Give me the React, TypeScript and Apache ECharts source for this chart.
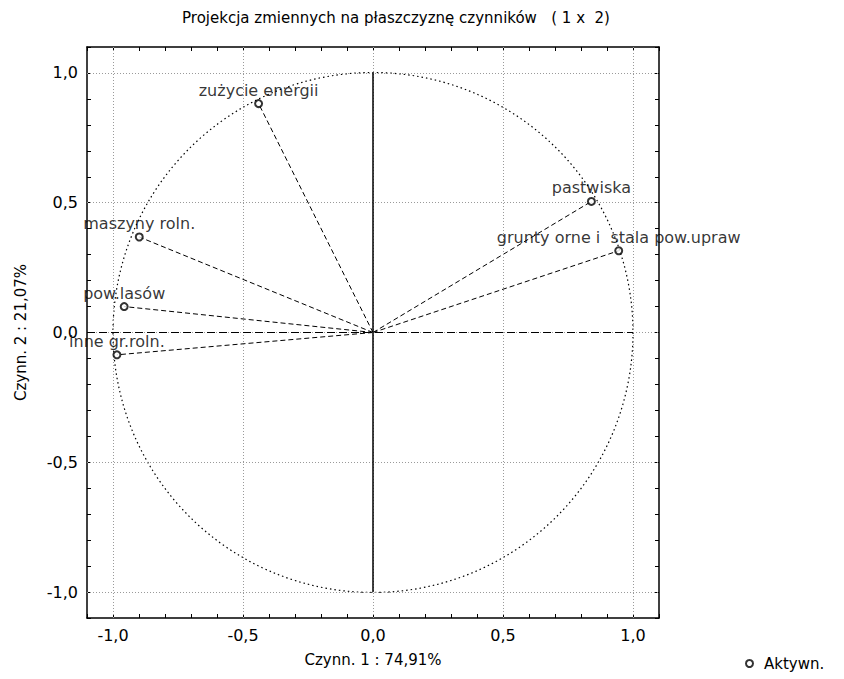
import React, { useEffect, useRef } from "react";
import * as echarts from "echarts";

const titleText = "Projekcja zmiennych na płaszczyznę czynników   ( 1 x  2)";
const xAxisTitle = "Czynn. 1 : 74,91%";
const yAxisTitle = "Czynn. 2 : 21,07%";
const seriesName = "Aktywn.";

const variableNames = [
  "zużycie energii",
  "maszyny roln.",
  "pow.lasów",
  "inne gr.roln.",
  "pastwiska",
  "grunty orne i  stala pow.upraw",
];
const factor1 = [-0.44, -0.899, -0.957, -0.985, 0.84, 0.945];
const factor2 = [0.882, 0.368, 0.1, -0.086, 0.505, 0.315];

const gridValues = [-1, -0.5, 0, 0.5, 1];
const axisMin = -1.1;
const axisMax = 1.1;
const tickStep = 0.1;

const FONT = "DejaVu Sans";

function fmt(v: number): string {
  if (Math.abs(v * 2 - Math.round(v * 2)) > 1e-6) return "";
  const r = Math.round(v * 10) / 10;
  return (r === 0 ? 0 : r).toFixed(1).replace(".", ",");
}

export default function App() {
  const ref = useRef<HTMLDivElement>(null);
  useEffect(() => {
    if (!ref.current) return;
    const chart = echarts.init(ref.current, null, { renderer: "svg" });

    const axisCommon = {
      type: "value",
      min: axisMin,
      max: axisMax,
      interval: tickStep,
      axisLine: { show: true, onZero: false, lineStyle: { color: "#000", width: 1.5 } },
      axisTick: { show: true, inside: true, length: 4, lineStyle: { color: "#000", width: 1 } },
      splitLine: { show: false },
    };

    const points = variableNames.map((n, i) => ({ name: n, value: [factor1[i], factor2[i]] }));

    const gridLineStyle = { color: "#9a9a9a", type: [1, 2], width: 1 };

    chart.setOption({
      animation: false,
      backgroundColor: "#fff",
      grid: { left: 87, right: 185, top: 47, bottom: 61, containLabel: false, outerBoundsMode: "none" },
      graphic: [
        {
          type: "text",
          x: 396,
          y: 18,
          style: {
            text: titleText,
            textAlign: "center",
            textVerticalAlign: "middle",
            fontFamily: FONT,
            fontSize: 15,
            fill: "#000",
          },
        },
      ],
      legend: {
        show: true,
        left: 740,
        top: 651,
        itemWidth: 7,
        itemHeight: 7,
        itemGap: 6,
        textStyle: { fontFamily: FONT, fontSize: 15, color: "#000", padding: [0, 0, 0, 6] },
        data: [{ name: seriesName, icon: "emptyCircle" }],
      },
      xAxis: [
        {
          ...axisCommon,
          position: "bottom",
          name: xAxisTitle,
          nameLocation: "middle",
          nameGap: 34,
          nameTextStyle: { fontFamily: FONT, fontSize: 15, color: "#000" },
          axisLabel: { show: true, margin: 9, formatter: fmt, fontFamily: FONT, fontSize: 16, color: "#000" },
        },
        {
          ...axisCommon,
          position: "top",
          axisLabel: { show: false },
        },
      ],
      yAxis: [
        {
          ...axisCommon,
          position: "left",
          name: yAxisTitle,
          nameLocation: "middle",
          nameGap: 59,
          nameTextStyle: { fontFamily: FONT, fontSize: 15, color: "#000" },
          axisLabel: { show: true, margin: 9, formatter: fmt, fontFamily: FONT, fontSize: 16, color: "#000" },
        },
        {
          ...axisCommon,
          position: "right",
          axisLabel: { show: false },
        },
      ],
      series: [
        {
          type: "line",
          name: "grid",
          data: [],
          silent: true,
          z: 1,
          markLine: {
            silent: true,
            symbol: "none",
            label: { show: false },
            data: [
              ...gridValues.map((v) => [
                { coord: [v, axisMin], lineStyle: gridLineStyle },
                { coord: [v, axisMax] },
              ]),
              ...gridValues.map((v) => [
                { coord: [axisMin, v], lineStyle: gridLineStyle },
                { coord: [axisMax, v] },
              ]),
            ],
          },
        },
        {
          type: "line",
          name: "axes0",
          data: [],
          silent: true,
          z: 2,
          markLine: {
            silent: true,
            symbol: "none",
            label: { show: false },
            data: [
              [
                { coord: [0, -1], lineStyle: { color: "#000", width: 1.5, type: "solid" } },
                { coord: [0, 1] },
              ],
              [
                { coord: [axisMin, 0], lineStyle: { color: "#000", width: 1.2, type: [8, 4] } },
                { coord: [1, 0] },
              ],
            ],
          },
        },
        {
          type: "custom",
          name: "circle",
          silent: true,
          z: 3,
          data: [[0, 0, 1]],
          renderItem: (params: any, api: any) => {
            const c = api.coord([api.value(0), api.value(1)]);
            const e = api.coord([api.value(0) + api.value(2), api.value(1)]);
            const r = Math.abs(e[0] - c[0]);
            return {
              type: "circle",
              shape: { cx: c[0], cy: c[1], r },
              style: { fill: "none", stroke: "#000", lineWidth: 1.2, lineDash: [1.5, 3] },
            };
          },
        },
        {
          type: "custom",
          name: "vectors",
          silent: true,
          z: 4,
          data: points.map((p) => p.value),
          renderItem: (params: any, api: any) => {
            const o = api.coord([0, 0]);
            const p = api.coord([api.value(0), api.value(1)]);
            return {
              type: "line",
              shape: { x1: o[0], y1: o[1], x2: p[0], y2: p[1] },
              style: { stroke: "#000", lineWidth: 1, lineDash: [5, 3] },
            };
          },
        },
        {
          type: "scatter",
          name: seriesName,
          z: 5,
          symbol: "emptyCircle",
          symbolSize: 7,
          itemStyle: { color: "#000", borderColor: "#000", borderWidth: 1 },
          data: points,
          label: {
            show: true,
            position: "top",
            distance: 1,
            formatter: "{b}",
            fontFamily: FONT,
            fontSize: 16,
            color: "#000",
          },
        },
      ],
    });
    return () => chart.dispose();
  }, []);
  return <div ref={ref} style={{ position: "fixed", left: 0, top: 0, width: 844, height: 679 }} />;
}
